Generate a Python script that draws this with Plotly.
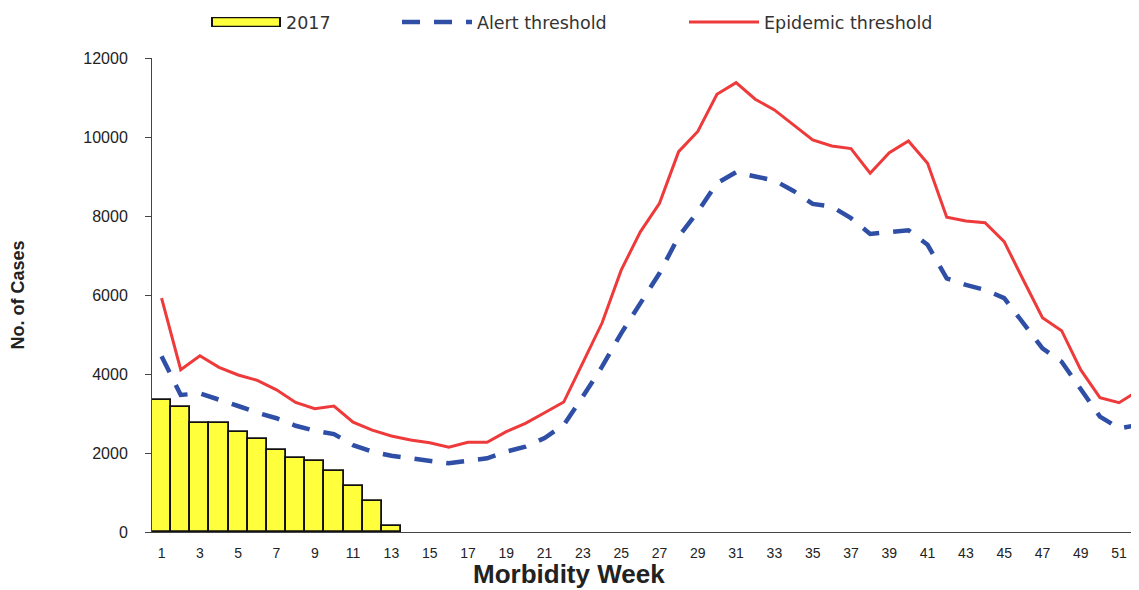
import plotly.graph_objects as go

weeks = list(range(1, 53))
bar_weeks = list(range(1, 14))
cases_2017 = [3340, 3170, 2770, 2770, 2520, 2345, 2070, 1880, 1800, 1550, 1165, 785, 160]

epidemic_threshold = [5920, 4110, 4460, 4170, 3975, 3840, 3600, 3280, 3120, 3190,
                      2780, 2580, 2430, 2330, 2260, 2145, 2270, 2270, 2540, 2750,
                      3020, 3290, 4290, 5290, 6630, 7600, 8320, 9630, 10140, 11080,
                      11376, 10956, 10685, 10305, 9926, 9774, 9706, 9082, 9604, 9900,
                      9335, 7968, 7875, 7832, 7350, 6380, 5426, 5097, 4102, 3400,
                      3274, 3578]

alert_threshold = [4450, 3470, 3510, 3360, 3190, 3020, 2880, 2690, 2565, 2480,
                   2200, 2035, 1930, 1865, 1805, 1740, 1805, 1865, 2035, 2160,
                   2380, 2710, 3430, 4185, 5030, 5790, 6550, 7480, 8110, 8830,
                   9110, 9000, 8900, 8635, 8305, 8240, 7945, 7545, 7580, 7640,
                   7270, 6420, 6255, 6130, 5920, 5285, 4650, 4310, 3595, 2920,
                   2625, 2710]

x_tick_vals = list(range(1, 52, 2))
y_tick_vals = [0, 2000, 4000, 6000, 8000, 10000, 12000]

BAR_FILL = "#FFFF3C"
BAR_EDGE = "#111111"

# page body has an 8px default margin, so the figure is sized to fit the window
W, H = 1131, 582

fig = go.Figure()
fig.add_trace(go.Bar(
    x=bar_weeks, y=cases_2017, name="2017", showlegend=False,
    marker=dict(color=BAR_FILL, line=dict(color=BAR_EDGE, width=1.8)),
))
# legend key for the 2017 bars: a wide outlined rectangle (two stacked keys)
fig.add_trace(go.Scatter(
    x=[None], y=[None], mode="lines", name="2017",
    line=dict(color=BAR_EDGE, width=11), legend="legend", hoverinfo="skip",
))
fig.add_trace(go.Scatter(
    x=[None], y=[None], mode="lines", name=" ",
    line=dict(color=BAR_FILL, width=7.5), legend="legend4", hoverinfo="skip",
))
fig.add_trace(go.Scatter(
    x=weeks, y=alert_threshold, mode="lines", name="Alert threshold",
    line=dict(color="#2F4FA6", width=4.5, dash="18px,14px"),
    legend="legend2",
))
fig.add_trace(go.Scatter(
    x=weeks, y=epidemic_threshold, mode="lines", name="Epidemic threshold",
    line=dict(color="#EE3A3A", width=3),
    legend="legend3",
))

legend_font = dict(family="DejaVu Sans, Open Sans, sans-serif", size=17.5, color="#333333")
common_leg = dict(orientation="h", yref="container", xref="container",
                  yanchor="middle", y=1 - 14 / H, xanchor="left",
                  font=legend_font, bgcolor="rgba(0,0,0,0)",
                  tracegroupgap=0)

fig.update_layout(
    width=W, height=H,
    margin=dict(l=144, r=0, t=50, b=58, autoexpand=False),
    paper_bgcolor="white", plot_bgcolor="white",
    bargap=0,
    showlegend=True,
    legend=dict(x=198 / W, itemwidth=70, **common_leg),
    legend4=dict(x=200 / W, itemwidth=66, **common_leg),
    legend2=dict(x=389 / W, itemwidth=70, **common_leg),
    legend3=dict(x=676 / W, itemwidth=70, **common_leg),
    xaxis=dict(
        range=[0.5, 52.04], automargin=False,
        tickmode="array", tickvals=x_tick_vals,
        ticktext=[str(v) for v in x_tick_vals],
        showgrid=False, zeroline=False,
        showline=True, linecolor="#444444", linewidth=1,
        ticks="", ticklabelstandoff=8,
        tickfont=dict(family="Liberation Sans, Arial, sans-serif", size=14, color="#222222"),
    ),
    yaxis=dict(
        range=[0, 12000], automargin=False,
        tickmode="array", tickvals=y_tick_vals,
        ticktext=[str(v) for v in y_tick_vals],
        showgrid=False, zeroline=False,
        showline=True, linecolor="#444444", linewidth=1,
        ticks="outside", ticklen=6, tickcolor="#444444",
        ticklabelstandoff=14,
        tickfont=dict(family="Liberation Sans, Arial, sans-serif", size=16, color="#222222"),
        title=dict(text="<b>No. of Cases</b>", standoff=54,
                   font=dict(family="Liberation Sans, Arial, sans-serif", size=18, color="#222222")),
    ),
    annotations=[dict(
        text="<b>Morbidity Week</b>", xref="paper", yref="paper",
        x=(569 - 152) / 987, y=-(574 - 532) / 474,
        xanchor="center", yanchor="middle", showarrow=False,
        font=dict(family="Liberation Sans, Arial, sans-serif", size=26, color="#222222"),
    )],
)

fig.write_html("out.html")
